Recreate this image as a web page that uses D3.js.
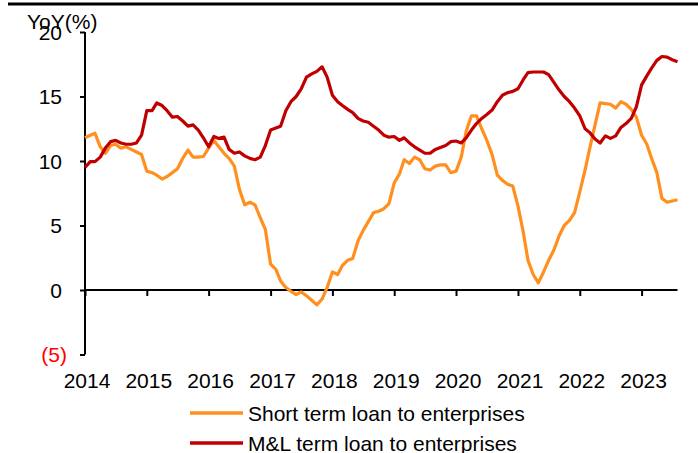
<!DOCTYPE html>
<html>
<head>
<meta charset="utf-8">
<script src="https://cdn.jsdelivr.net/npm/d3@7"></script>
<style>
  html, body { margin: 0; padding: 0; background: #fff; }
  svg { display: block; font-family: "Liberation Sans", Arial, sans-serif; }
</style>
</head>
<body>
<svg id="chart" width="698" height="453"></svg>
<script>
// Monthly YoY growth of enterprise loans, Jan 2014 – Aug 2023
const startMonth = new Date(Date.UTC(2014, 0, 1));

const shortTermLoans = [
  11.8, 12.0, 12.15, 11.1, 10.6, 11.2, 11.3, 11.0, 11.1, 10.9, 10.7, 10.5,
  9.2, 9.1, 8.9, 8.6, 8.8, 9.1, 9.4, 10.2, 10.85, 10.3, 10.3, 10.35,
  11.0, 11.6, 11.1, 10.6, 10.2, 9.6, 7.8, 6.6, 6.8, 6.6, 5.6, 4.7,
  2.0, 1.6, 0.7, 0.2, -0.1, -0.35, -0.15, -0.45, -0.8, -1.15, -0.7, 0.2,
  1.4, 1.2, 1.9, 2.3, 2.45, 3.8, 4.6, 5.3, 6.0, 6.1, 6.3, 6.7,
  8.3, 9.0, 10.1, 9.8, 10.3, 10.1, 9.4, 9.3, 9.6, 9.7, 9.7, 9.1,
  9.2, 10.3, 12.3, 13.5, 13.5, 12.5, 11.6, 10.5, 8.9, 8.5, 8.2, 8.06,
  6.5, 4.5, 2.3, 1.2, 0.55, 1.4, 2.3, 3.1, 4.2, 5.0, 5.4, 6.0,
  7.6, 9.3, 11.0, 12.8, 14.5, 14.45, 14.4, 14.1, 14.6, 14.4, 14.0, 13.4,
  12.0, 11.3, 10.2, 9.1, 7.1, 6.8, 6.9, 7.0
];

const mlTermLoans = [
  9.5, 9.95, 9.95, 10.3, 11.0, 11.5, 11.6, 11.4, 11.3, 11.3, 11.4, 12.0,
  13.9, 13.9, 14.5, 14.3, 13.9, 13.4, 13.45, 13.1, 12.7, 12.8, 12.4, 11.8,
  11.1, 11.9, 11.75, 11.85, 10.9, 10.6, 10.7, 10.4, 10.2, 10.1, 10.3, 11.2,
  12.4, 12.55, 12.7, 13.9, 14.6, 15.0, 15.6, 16.5, 16.75, 16.95, 17.3, 16.5,
  15.1, 14.6, 14.3, 14.0, 13.75, 13.3, 13.1, 13.0, 12.7, 12.4, 12.0, 11.85,
  11.9, 11.6, 11.8, 11.4, 11.1, 10.85, 10.6, 10.6, 10.9, 11.05, 11.2, 11.5,
  11.55, 11.4, 11.8, 12.4, 12.9, 13.3, 13.6, 13.95, 14.6, 15.1, 15.3, 15.4,
  15.6, 16.3, 16.85, 16.9, 16.9, 16.9, 16.7, 16.1, 15.5, 15.0, 14.6, 14.1,
  13.5, 12.5, 12.2, 11.7, 11.4, 11.95, 11.75, 11.95, 12.6, 12.9, 13.3, 14.2,
  15.9, 16.6, 17.2, 17.8, 18.1, 18.05, 17.85, 17.7
];

const yTicks = [-5, 0, 5, 10, 15, 20];
const yearTicks = [2014, 2015, 2016, 2017, 2018, 2019, 2020, 2021, 2022, 2023];
const seriesNames = ["Short term loan to enterprises", "M&L term loan to enterprises"];
const seriesColors = ["#FF8F1F", "#C00000"];

const monthDate = i => new Date(Date.UTC(2014, i, 1));
const lastIndex = shortTermLoans.length - 1;
const fontSize = 21;

const svg = d3.select("#chart");

const x = d3.scaleUtc()
  .domain([startMonth, monthDate(lastIndex)])
  .range([85, 677.5]);

const y = d3.scaleLinear()
  .domain([-5, 20])
  .range([354.5, 32]);

// Top rule
svg.append("line")
  .attr("x1", 8).attr("x2", 698)
  .attr("y1", 4).attr("y2", 4)
  .attr("stroke", "#000").attr("stroke-width", 3.2);

// Y axis
const yAxis = d3.axisLeft(y)
  .tickValues(yTicks)
  .tickSize(5)
  .tickFormat("");
const gy = svg.append("g").attr("transform", "translate(85,0)").call(yAxis);
gy.select(".domain").attr("stroke", "#000").attr("stroke-width", 2).attr("d", `M0,${y(-5)}V${y(20)}`);
gy.selectAll(".tick line").attr("stroke", "#000").attr("stroke-width", 2);

svg.append("g").selectAll("text")
  .data(yTicks)
  .join("text")
  .attr("x", d => d < 0 ? 67 : 62)
  .attr("y", d => y(d) + 7.5)
  .attr("text-anchor", "end")
  .attr("font-size", fontSize)
  .attr("fill", d => d < 0 ? "#FF0000" : "#000")
  .text(d => d < 0 ? `(${Math.abs(d)})` : d);

// X axis along zero line
const yearDates = yearTicks.map(yr => new Date(Date.UTC(yr, 0, 1)));
const xAxis = d3.axisBottom(x)
  .tickValues(yearDates)
  .tickSize(6)
  .tickFormat("");
const gx = svg.append("g").attr("transform", `translate(0,${y(0)})`).call(xAxis);
gx.select(".domain").attr("stroke", "#000").attr("stroke-width", 2).attr("d", `M${x.range()[0]},0H${x.range()[1]}`);
gx.selectAll(".tick line").attr("stroke", "#000").attr("stroke-width", 2);

svg.append("g").selectAll("text")
  .data(yearDates)
  .join("text")
  .attr("x", d => x(d) + 2)
  .attr("y", 388)
  .attr("text-anchor", "middle")
  .attr("font-size", fontSize)
  .attr("fill", "#000")
  .text(d => d.getUTCFullYear());

// Axis title
svg.append("text")
  .attr("x", 27).attr("y", 29)
  .attr("font-size", fontSize)
  .attr("fill", "#000")
  .text("YoY(%)");

// Series lines
const line = d3.line()
  .x((d, i) => x(monthDate(i)))
  .y(d => y(d));

[shortTermLoans, mlTermLoans].forEach((values, k) => {
  svg.append("path")
    .datum(values)
    .attr("fill", "none")
    .attr("stroke", seriesColors[k])
    .attr("stroke-width", 3.2)
    .attr("stroke-linejoin", "round")
    .attr("d", line);
});

// Legend
const legend = svg.append("g");
seriesNames.forEach((name, k) => {
  const cy = 413 + k * 30;
  legend.append("line")
    .attr("x1", 190).attr("x2", 243)
    .attr("y1", cy).attr("y2", cy)
    .attr("stroke", seriesColors[k])
    .attr("stroke-width", 3.5);
  legend.append("text")
    .attr("x", 248).attr("y", cy + 7.5)
    .attr("font-size", fontSize)
    .attr("fill", "#000")
    .text(name);
});
</script>
</body>
</html>
